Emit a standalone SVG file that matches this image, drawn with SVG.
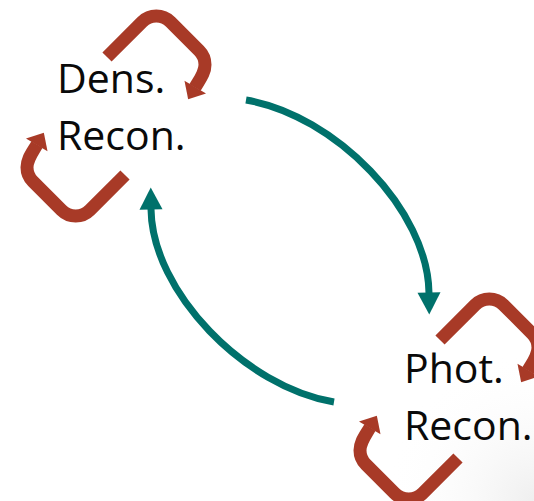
<svg xmlns="http://www.w3.org/2000/svg" width="534" height="501" viewBox="0 0 534 501">
  <style>
    .label { font-family: "Open Sans", "Noto Sans", "DejaVu Sans", sans-serif; font-size: 41px; fill: #0a0a0a; }
    .loop { fill: none; stroke: #A83A27; stroke-width: 13; stroke-linecap: butt; stroke-linejoin: round; marker-end: url(#redHead); }
    .flow { fill: none; stroke: #00716B; stroke-width: 7; stroke-linecap: butt; marker-end: url(#tealHead); }
  </style>
  <defs>
    <marker id="redHead" markerUnits="userSpaceOnUse" markerWidth="16" markerHeight="28" refX="0.5" refY="0" orient="auto" overflow="visible">
      <path d="M0,-12.5 L14,0 L0,12.5 Z" fill="#A83A27"/>
    </marker>
    <marker id="tealHead" markerUnits="userSpaceOnUse" markerWidth="24" markerHeight="24" refX="0.5" refY="0" orient="auto" overflow="visible">
      <path d="M0,-11.5 L22,0 L0,11.5 Z" fill="#00716B"/>
    </marker>
    <radialGradient id="cornerShade" cx="534" cy="501" r="150" gradientUnits="userSpaceOnUse">
      <stop offset="0" stop-color="#efefef"/>
      <stop offset="1" stop-color="#ffffff" stop-opacity="0"/>
    </radialGradient>
  </defs>

  <rect width="534" height="501" fill="#ffffff"/>
  <rect width="534" height="501" fill="url(#cornerShade)"/>

  <g id="node-dens">
    <text class="label" x="57" y="93">Dens.</text>
    <text class="label" x="57" y="150">Recon.</text>
  </g>

  <g id="node-phot">
    <text class="label" x="404" y="383">Phot.</text>
    <text class="label" x="404" y="440">Recon.</text>
  </g>

  <g id="connectors">
    <!-- self-loops around the density reconstruction -->
    <path id="dens-loop-top" class="loop" d="M107,57 L142.15,21.85 A20,20 0 0 1 170.45,21.85 L199.15,50.55 A20,20 0 0 1 205,64.7 C205,73 200,79 195,87.5"/>
    <path id="dens-loop-bottom" class="loop" transform="rotate(180 116 116)" d="M107,57 L142.15,21.85 A20,20 0 0 1 170.45,21.85 L199.15,50.55 A20,20 0 0 1 205,64.7 C205,73 200,79 195,87.5"/>
    <!-- self-loops around the photometric reconstruction -->
    <path id="phot-loop-top" class="loop" transform="translate(333 283)" d="M107,57 L142.15,21.85 A20,20 0 0 1 170.45,21.85 L199.15,50.55 A20,20 0 0 1 205,64.7 C205,73 200,79 195,87.5"/>
    <path id="phot-loop-bottom" class="loop" transform="translate(333 283) rotate(180 116 116)" d="M107,57 L142.15,21.85 A20,20 0 0 1 170.45,21.85 L199.15,50.55 A20,20 0 0 1 205,64.7 C205,73 200,79 195,87.5"/>
    <!-- exchange between the two reconstructions -->
    <path id="dens-to-phot" class="flow" d="M246,100 C335,115 428,210 429,293"/>
    <path id="phot-to-dens" class="flow" d="M334,402 C245,387 152,292 151,209"/>
  </g>
</svg>
